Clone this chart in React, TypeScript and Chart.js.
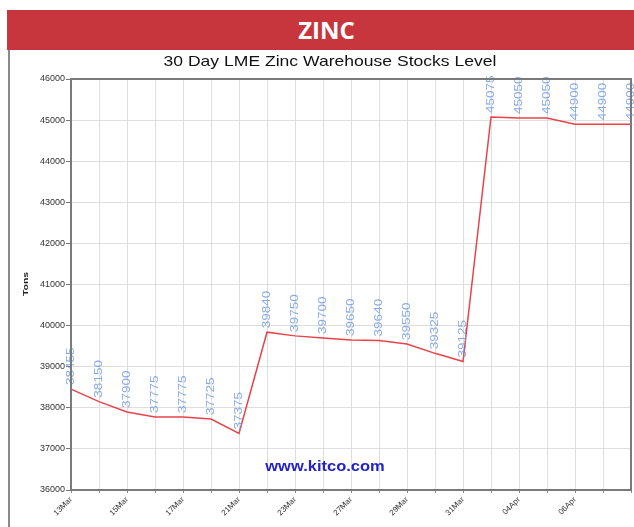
import React, { useEffect, useRef } from "react";
import { Chart, registerables } from "chart.js";

Chart.register(...registerables);

const dates = [
  "13Mar", "14Mar", "15Mar", "16Mar", "17Mar", "20Mar", "21Mar", "22Mar", "23Mar", "24Mar",
  "27Mar", "28Mar", "29Mar", "30Mar", "31Mar", "03Apr", "04Apr", "05Apr", "06Apr", "07Apr", "10Apr",
];
const stocks = [
  38455, 38150, 37900, 37775, 37775, 37725, 37375, 39840, 39750, 39700,
  39650, 39640, 39550, 39325, 39125, 45075, 45050, 45050, 44900, 44900, 44900,
];
const yTicks = [36000, 37000, 38000, 39000, 40000, 41000, 42000, 43000, 44000, 45000, 46000];
const chartTitle = "30 Day LME Zinc Warehouse Stocks Level";
const bannerText = "ZINC";
const watermark = "www.kitco.com";
const yAxisTitle = "Tons";

const FONT = "Arial, 'Liberation Sans', sans-serif";

const decorPlugin = {
  id: "decor",
  afterDatasetsDraw(chart: any) {
    const { ctx, chartArea } = chart;
    const meta = chart.getDatasetMeta(0);
    ctx.save();
    // data labels (rotated, reading bottom to top)
    ctx.fillStyle = "rgba(105,150,225,0.8)";
    ctx.font = `10px ${FONT}`;
    ctx.textAlign = "left";
    ctx.textBaseline = "middle";
    meta.data.forEach((pt: any, i: number) => {
      ctx.save();
      ctx.translate(pt.x, pt.y - 4);
      ctx.rotate(-Math.PI / 2);
      ctx.scale(1.35, 1);
      ctx.fillText(String(stocks[i]), 0, 0);
      ctx.restore();
    });
    // watermark
    ctx.save();
    ctx.fillStyle = "#2323c8";
    ctx.font = `bold 15px ${FONT}`;
    ctx.textAlign = "center";
    ctx.textBaseline = "middle";
    ctx.translate(315, chartArea.bottom - 23);
    ctx.scale(1.1, 1);
    ctx.fillText(watermark, 0, 0);
    ctx.restore();
    // border
    ctx.strokeStyle = "#7a7a7a";
    ctx.lineWidth = 2;
    ctx.strokeRect(chartArea.left, chartArea.top, chartArea.right - chartArea.left, chartArea.bottom - chartArea.top);
    // title
    ctx.save();
    ctx.fillStyle = "#111";
    ctx.font = `15px ${FONT}`;
    ctx.textAlign = "center";
    ctx.textBaseline = "middle";
    ctx.translate(320, 12);
    ctx.scale(1.17, 1);
    ctx.fillText(chartTitle, 0, 0);
    ctx.restore();
    // y axis title
    ctx.save();
    ctx.fillStyle = "#222";
    ctx.font = `bold 8px ${FONT}`;
    ctx.textAlign = "center";
    ctx.textBaseline = "middle";
    ctx.translate(16, 234);
    ctx.rotate(-Math.PI / 2);
    ctx.scale(1.3, 1);
    ctx.fillText(yAxisTitle, 0, 0);
    ctx.restore();
    ctx.restore();
  },
};

export default function App() {
  const ref = useRef<HTMLCanvasElement>(null);
  useEffect(() => {
    if (!ref.current) return;
    const chart = new Chart(ref.current, {
      type: "line",
      data: {
        labels: dates,
        datasets: [
          {
            data: stocks,
            borderColor: "#e8434a",
            borderWidth: 1.5,
            pointRadius: 0,
            tension: 0,
            fill: false,
          },
        ],
      },
      options: {
        responsive: false,
        animation: false,
        layout: { padding: { left: 0, top: 29, right: 3, bottom: 0 } },
        plugins: {
          legend: { display: false },
          tooltip: { enabled: false },
          title: { display: false },
        },
        scales: {
          x: {
            type: "category",
            offset: false,
            afterFit: (s: any) => {
              s.height = 37;
              s.paddingLeft = 0;
              s.paddingRight = 0;
            },
            grid: { color: "#dedede", tickLength: 3, tickColor: "#888", drawOnChartArea: true },
            border: { display: false },
            ticks: {
              autoSkip: false,
              minRotation: 45,
              maxRotation: 45,
              color: "#333",
              font: { size: 8, family: FONT },
              padding: 2,
              callback: (_v: any, i: number) => (i % 2 === 0 && i < dates.length - 1 ? dates[i] : ""),
            },
          },
          y: {
            min: yTicks[0],
            max: yTicks[yTicks.length - 1],
            afterFit: (s: any) => {
              s.width = 61;
              s.paddingTop = 0;
              s.paddingBottom = 0;
            },
            afterBuildTicks: (s: any) => { s.ticks = yTicks.map((v) => ({ value: v })); },
            grid: { color: "#dedede", tickLength: 5, tickColor: "#777" },
            border: { display: false },
            ticks: {
              color: "#333",
              font: { size: 9, family: FONT },
              padding: 1,
              callback: (v: any) => String(v),
            },
          },
        },
      },
      plugins: [decorPlugin],
    });
    return () => chart.destroy();
  }, []);

  return (
    <div style={{ position: "fixed", left: 7, top: 10, width: 627, height: 517, overflow: "hidden" }}>
      <div
        style={{
          height: 40,
          background: "#c7363d",
          color: "#fff",
          fontFamily: "'Open Sans', 'Noto Sans', sans-serif",
          fontWeight: 700,
          fontSize: 24,
          lineHeight: "40px",
          textAlign: "center",
          paddingLeft: 12,
          boxSizing: "border-box",
        }}
      >
        {bannerText}
      </div>
      <div style={{ position: "absolute", left: 1, top: 40, width: 2, height: 477, background: "#8a8a8a" }} />
      <canvas
        ref={ref}
        width={624}
        height={477}
        style={{ display: "block", position: "absolute", left: 3, top: 40 }}
      />
    </div>
  );
}
